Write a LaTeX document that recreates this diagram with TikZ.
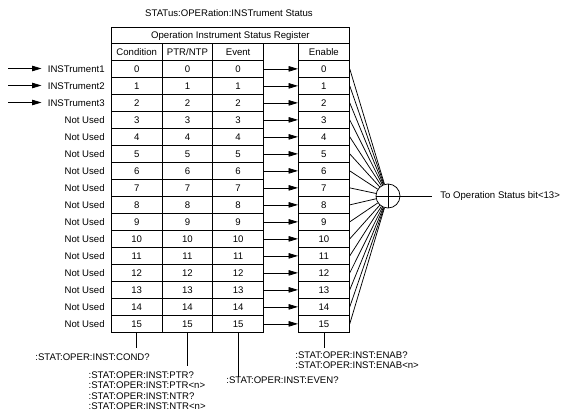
\documentclass[tikz,border=0pt]{standalone}
\usepackage{fontspec}
\setmainfont{Liberation Sans}
\usetikzlibrary{arrows.meta}
\begin{document}
\begin{tikzpicture}[x=1pt,y=-1pt,
  font=\fontsize{9.6}{10.4}\selectfont,
  every path/.style={line width=0.75pt},
  cell/.style={draw, line width=0.75pt, minimum width=50.7pt, minimum height=17pt, inner sep=0pt, anchor=north west},
  hcell/.style={cell, minimum height=16.5pt},
  lbl/.style={anchor=east, inner sep=3pt},
  txt/.style={anchor=base west, inner sep=0pt},
  arr/.style={-{Triangle[length=9.5pt,width=5.5pt]}},
  orgate/.style={draw, circle, minimum size=24pt, inner sep=0pt, line width=0.75pt}]
\useasboundingbox (0,0) rectangle (564,412);

\node[anchor=base, inner sep=0pt] (title) at (229,16.5) {STATus:OPERation:INSTrument Status};
\node[cell, minimum width=238pt, minimum height=16.5pt] (hdr) at (111,27) {Operation Instrument Status Register};
\node[hcell] (hc) at (111,43.5) {Condition};
\node[hcell] (hp) at (161.7,43.5) {PTR/NTP};
\node[hcell] (he) at (212.4,43.5) {Event};
\node[hcell, minimum width=51pt] (hn) at (298,43.5) {Enable};

\node[orgate] (or) at (388,196) {};
\draw (or.north) -- (or.south);
\draw (or.west) -- (or.east);

\foreach \i in {0,...,15} {
  \pgfmathsetmacro\yy{60+17*\i}
  \node[cell] (c\i) at (111,\yy) {\i};
  \node[cell] (p\i) at (161.7,\yy) {\i};
  \node[cell] (e\i) at (212.4,\yy) {\i};
  \node[cell, minimum width=51pt] (n\i) at (298,\yy) {\i};
  \draw[arr] (e\i.east) -- (n\i.west);
  \draw (n\i.east) -- (or);
}

\foreach \i/\t in {0/INSTrument1,1/INSTrument2,2/INSTrument3} {
  \node[lbl] (l\i) at ([xshift=-3pt]c\i.west) {\t};
  \pgfmathsetmacro\yc{68.5+17*\i}
  \coordinate (s\i) at (8,\yc);
  \draw[arr, shorten >=3pt] (s\i) -- (s\i -| l\i.west);
}
\foreach \i in {3,...,15} {
  \node[lbl] (l\i) at ([xshift=-3pt]c\i.west) {Not Used};
}

\node[anchor=west, inner sep=0pt] (out) at (440,196) {To Operation Status bit<13>};
\draw[shorten >=8pt] (or.east) -- (out.west);

% bottom query connectors
\draw (c15.south) -- ++(0,15.7) coordinate (qc);
\node[txt] (tcond) at (35,360) {:STAT:OPER:INST:COND?};

\draw (p15.south) -- ++(0,33.7) coordinate (qp);
\node[txt] (tptr1) at (88.3,378.5) {:STAT:OPER:INST:PTR?};
\node[txt] (tptr2) at (88.3,388.9) {:STAT:OPER:INST:PTR<n>};
\node[txt] (tntr1) at (88.3,399.3) {:STAT:OPER:INST:NTR?};
\node[txt] (tntr2) at (88.3,409.7) {:STAT:OPER:INST:NTR<n>};

\draw (e15.south) -- ++(0,44) coordinate (qe);
\node[txt] (teven) at (226,383.5) {:STAT:OPER:INST:EVEN?};

\draw (n15.south) -- ++(0,15.3) coordinate (qn);
\node[txt] (tenab1) at (295,358.4) {:STAT:OPER:INST:ENAB?};
\node[txt] (tenab2) at (295,368.6) {:STAT:OPER:INST:ENAB<n>};
\end{tikzpicture}
\end{document}
